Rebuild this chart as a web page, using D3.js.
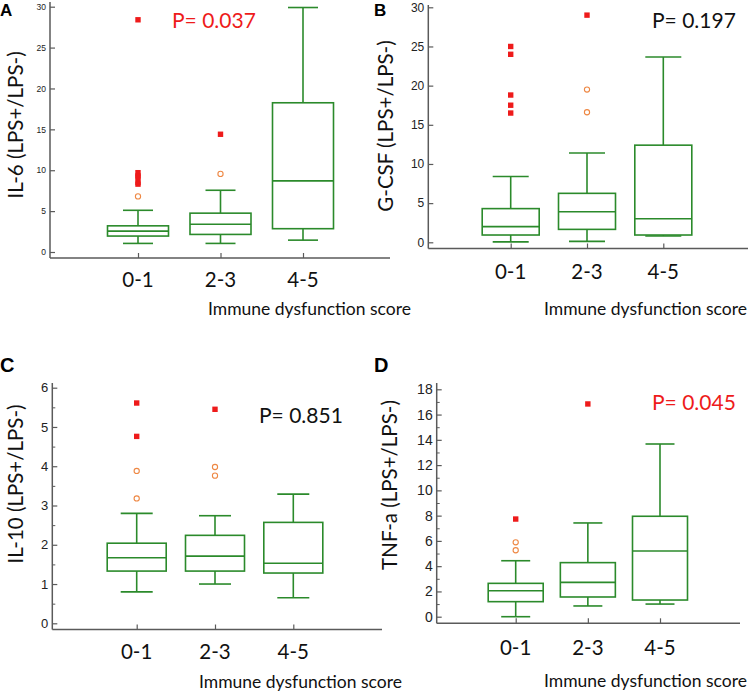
<!DOCTYPE html>
<html><head><meta charset="utf-8">
<script src="https://cdn.jsdelivr.net/npm/d3@7"></script>
<style>
body{margin:0;background:#fff;}
svg{display:block;}
.tick text{font-family:"Liberation Sans",Arial,sans-serif;fill:#222;}
</style></head>
<body>
<svg id="chart" width="748" height="693"></svg>
<script>
// ---------- data ----------
const categories = ["0-1", "2-3", "4-5"];
// box stats per category: [lower whisker, Q1, median, Q3, upper whisker]
const il6Boxes  = [[1.05, 1.95, 2.55, 3.2, 5.1], [1.05, 2.15, 3.4, 4.75, 7.55], [1.45, 2.85, 8.7, 18.25, 29.9]];
const il6Far    = [[28.4, 9.7, 9.3, 9.1, 8.5, 8.3], [14.4], []];
const il6Near   = [[6.8], [9.55], []];
const gcsfBoxes = [[0.05, 0.93, 2.0, 4.3, 8.4], [0.12, 1.65, 3.9, 6.25, 11.4], [0.8, 0.93, 3.0, 12.4, 23.65]];
const gcsfFar   = [[25.0, 24.0, 18.8, 17.5, 16.5], [29.0], []];
const gcsfNear  = [[], [19.5, 16.6], []];
const il10Boxes = [[0.80, 1.33, 1.67, 2.04, 2.80], [1.0, 1.33, 1.71, 2.24, 2.74], [0.65, 1.28, 1.53, 2.57, 3.29]];
const il10Far   = [[5.61, 4.76], [5.45], []];
const il10Near  = [[3.88, 3.18], [3.98, 3.76], []];
const tnfBoxes  = [[0.0, 1.19, 2.06, 2.64, 4.43], [0.85, 1.56, 2.72, 4.28, 7.42], [1.0, 1.32, 5.2, 7.95, 13.67]];
const tnfFar    = [[7.73], [16.84], []];
const tnfNear   = [[5.89, 5.26], [], []];
const il6Ticks  = [0, 5, 10, 15, 20, 25, 30];
const gcsfTicks = [0, 5, 10, 15, 20, 25, 30];
const il10Ticks = [0, 1, 2, 3, 4, 5, 6];
const il10Minor = [0.5, 1.5, 2.5, 3.5, 4.5, 5.5];
const tnfTicks  = [0, 2, 4, 6, 8, 10, 12, 14, 16, 18];
const tnfMinor  = [1, 3, 5, 7, 9, 11, 13, 15, 17];
const panelLetters = ["A", "B", "C", "D"];
const yLabels = ["IL-6 (LPS+/LPS-)", "G-CSF (LPS+/LPS-)", "IL-10 (LPS+/LPS-)", "TNF-a (LPS+/LPS-)"];
const pTexts = ["P= 0.037", "P= 0.197", "P= 0.851", "P= 0.045"];
const xTitle = "Immune dysfunction score";

// ---------- styles ----------
const GREEN = "#2b8a2b", RED = "#ee1b1b", ORANGE = "#ee8844", AXIS = "#5a5a5a";
const SANS = "Lato, 'Open Sans', sans-serif";

const svg = d3.select("#chart");

const panels = [
  {letter: panelLetters[0], boxes: il6Boxes, far: il6Far, near: il6Near, ticks: il6Ticks, minor: [],
   domain: [0, 30], yRange: [252, 6.7], axisX: 50, axisTop: 2, axisY: 258, axisRight: 390,
   xRange: [138, 303], boxW: 61, capW: 30, tickFont: 8.5,
   yLabel: yLabels[0], yLabX: 23, yLabY: 125, yLabSize: 20.5,
   p: pTexts[0], pColor: RED, pX: 172, pY: 28,
   xLabY: 287, titleX: 208, titleY: 315, letterX: 0, letterY: 16, letterSize: 17},
  {letter: panelLetters[1], boxes: gcsfBoxes, far: gcsfFar, near: gcsfNear, ticks: gcsfTicks, minor: [],
   domain: [0, 30], yRange: [242.3, 7.3], axisX: 428.3, axisTop: 5, axisY: 248.5, axisRight: 748,
   xRange: [510.7, 663.3], boxW: 57, capW: 36, tickFont: 12,
   yLabel: yLabels[1], yLabX: 393, yLabY: 126, yLabSize: 20.5,
   p: pTexts[1], pColor: "#111", pX: 652, pY: 28,
   xLabY: 279, titleX: 544, titleY: 315, letterX: 374, letterY: 16, letterSize: 17},
  {letter: panelLetters[2], boxes: il10Boxes, far: il10Far, near: il10Near, ticks: il10Ticks, minor: il10Minor,
   domain: [0, 6], yRange: [623.3, 387.7], axisX: 52.3, axisTop: 383, axisY: 629.5, axisRight: 382,
   xRange: [136.7, 293.3], boxW: 59, capW: 32, tickFont: 13,
   yLabel: yLabels[2], yLabX: 23, yLabY: 484, yLabSize: 20.5,
   p: pTexts[2], pColor: "#111", pX: 259, pY: 423,
   xLabY: 659, titleX: 199, titleY: 688, letterX: 0, letterY: 372, letterSize: 20},
  {letter: panelLetters[3], boxes: tnfBoxes, far: tnfFar, near: tnfNear, ticks: tnfTicks, minor: tnfMinor,
   domain: [0, 18], yRange: [616.7, 389.3], axisX: 436.7, axisTop: 383, axisY: 623.3, axisRight: 740,
   xRange: [515.7, 660], boxW: 55, capW: 29, tickFont: 14,
   yLabel: yLabels[3], yLabX: 397, yLabY: 485, yLabSize: 20.5,
   p: pTexts[3], pColor: RED, pX: 652, pY: 410,
   xLabY: 655, titleX: 544, titleY: 687, letterX: 374, letterY: 372, letterSize: 20}
];

panels.forEach(P => {
  const g = svg.append("g");
  const y = d3.scaleLinear().domain(P.domain).range(P.yRange);
  const x = d3.scalePoint().domain(categories).range(P.xRange);

  // y axis (inward ticks)
  const yAx = g.append("g").attr("transform", `translate(${P.axisX},0)`)
    .call(d3.axisLeft(y).tickValues(P.ticks).tickFormat(d3.format("~g"))
      .tickSize(-5).tickSizeOuter(0).tickPadding(4));
  yAx.select(".domain").remove();
  yAx.selectAll(".tick line").attr("stroke", AXIS).attr("stroke-width", 1.2);
  yAx.selectAll(".tick text").style("font-size", P.tickFont + "px");
  if (P.minor.length) {
    const mAx = g.append("g").attr("transform", `translate(${P.axisX},0)`)
      .call(d3.axisLeft(y).tickValues(P.minor).tickSize(-3).tickFormat(""));
    mAx.select(".domain").remove();
    mAx.selectAll(".tick line").attr("stroke", AXIS).attr("stroke-width", 1);
  }
  // x axis ticks (inward)
  const xAx = g.append("g").attr("transform", `translate(0,${P.axisY})`)
    .call(d3.axisBottom(x).tickSize(-5).tickSizeOuter(0).tickFormat(""));
  xAx.select(".domain").remove();
  xAx.selectAll(".tick line").attr("stroke", AXIS).attr("stroke-width", 1.2);

  // axis lines
  g.append("line").attr("x1", P.axisX).attr("x2", P.axisX).attr("y1", P.axisTop).attr("y2", P.axisY)
    .attr("stroke", AXIS).attr("stroke-width", 1.5);
  g.append("line").attr("x1", P.axisX).attr("x2", P.axisRight).attr("y1", P.axisY).attr("y2", P.axisY)
    .attr("stroke", AXIS).attr("stroke-width", 1.5);

  // x category labels
  g.selectAll(".cat").data(categories).join("text")
    .attr("x", d => x(d)).attr("y", P.xLabY).attr("text-anchor", "middle")
    .style("font-family", SANS).style("font-size", "20.5px").attr("fill", "#111").text(d => d);

  // boxes
  const bx = g.selectAll(".box").data(P.boxes.map((b, i) => ({cat: categories[i], b}))).join("g");
  const line = (sel, x1, x2, y1, y2) => sel.append("line")
    .attr("x1", x1).attr("x2", x2).attr("y1", y1).attr("y2", y2)
    .attr("stroke", GREEN).attr("stroke-width", 1.6);
  bx.each(function(d) {
    const s = d3.select(this), cx = x(d.cat), [lo, q1, md, q3, hi] = d.b;
    line(s, cx, cx, y(q3), y(hi));
    line(s, cx, cx, y(q1), y(lo));
    line(s, cx - P.capW / 2, cx + P.capW / 2, y(hi), y(hi));
    line(s, cx - P.capW / 2, cx + P.capW / 2, y(lo), y(lo));
    s.append("rect").attr("x", cx - P.boxW / 2).attr("width", P.boxW)
      .attr("y", y(q3)).attr("height", y(q1) - y(q3))
      .attr("fill", "none").attr("stroke", GREEN).attr("stroke-width", 1.6);
    line(s, cx - P.boxW / 2, cx + P.boxW / 2, y(md), y(md));
  });

  // outliers
  const far = P.far.flatMap((arr, i) => arr.map(v => ({cat: categories[i], v})));
  const near = P.near.flatMap((arr, i) => arr.map(v => ({cat: categories[i], v})));
  g.selectAll(".far").data(far).join("rect")
    .attr("x", d => x(d.cat) - 2.7).attr("y", d => y(d.v) - 2.7)
    .attr("width", 5.4).attr("height", 5.4).attr("fill", RED);
  g.selectAll(".near").data(near).join("circle")
    .attr("cx", d => x(d.cat)).attr("cy", d => y(d.v)).attr("r", 2.6)
    .attr("fill", "#fff").attr("stroke", ORANGE).attr("stroke-width", 1.1);

  // y label
  g.append("text").attr("transform", `translate(${P.yLabX},${P.yLabY}) rotate(-90)`)
    .attr("text-anchor", "middle").style("font-family", SANS).style("font-size", P.yLabSize + "px")
    .attr("fill", "#111").text(P.yLabel);
  // p value
  g.append("text").attr("x", P.pX).attr("y", P.pY).style("font-family", SANS).style("font-size", "21px")
    .attr("fill", P.pColor).text(P.p);
  // x title
  g.append("text").attr("x", P.titleX).attr("y", P.titleY).style("font-family", SANS).style("font-size", "17.5px")
    .attr("fill", "#111").text(xTitle);
  // panel letter
  g.append("text").attr("x", P.letterX).attr("y", P.letterY)
    .style("font-family", "'Liberation Sans', Arial, sans-serif").style("font-weight", "bold")
    .style("font-size", P.letterSize + "px").attr("fill", "#000").text(P.letter);
});
</script>
</body></html>
